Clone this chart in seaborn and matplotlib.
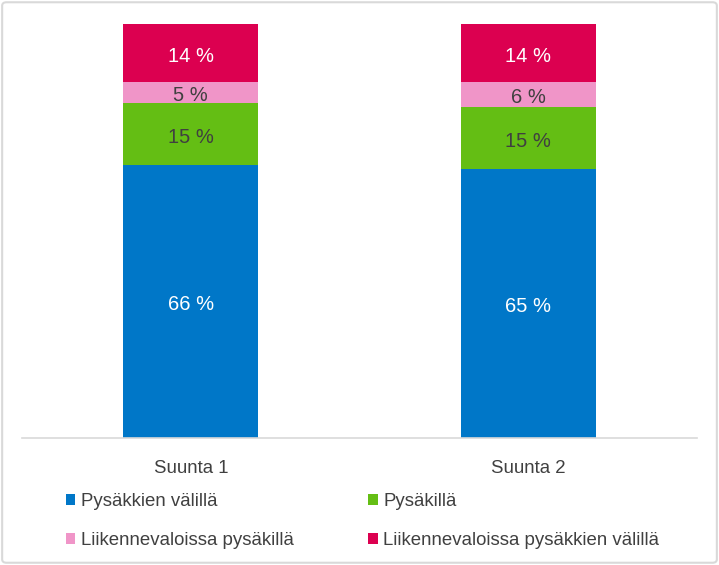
import pandas as pd
import matplotlib.pyplot as plt
import seaborn as sns
from matplotlib.patches import FancyBboxPatch, Patch

categories = ['Suunta 1', 'Suunta 2']
series_names = ['Pysäkkien välillä', 'Pysäkillä',
                'Liikennevaloissa pysäkillä', 'Liikennevaloissa pysäkkien välillä']
pysakkien_valilla = [66, 65]
pysakilla = [15, 15]
valot_pysakilla = [5, 6]
valot_valilla = [14, 14]

colors = ['#0077C8', '#64BE14', '#F095C8', '#DC0050']
label_colors = ['white', '#404040', '#404040', 'white']

sns.set_style('white')
plt.rcParams['font.family'] = ['Liberation Sans', 'DejaVu Sans']

fig = plt.figure(figsize=(7.19, 5.65), dpi=100)
ax = fig.add_axes([22 / 719, 1 - 438 / 565, 675 / 719, 414 / 565])

values = [pysakkien_valilla, pysakilla, valot_pysakilla, valot_valilla]
bottom = [0, 0]
for name, vals, col, lc in zip(series_names, values, colors, label_colors):
    df = pd.DataFrame({'cat': categories, 'val': vals})
    sns.barplot(data=df, x='cat', y='val', color=col, width=0.4, linewidth=0,
                bottom=bottom, ax=ax, saturation=1, errorbar=None)
    for i, v in enumerate(vals):
        ax.annotate(f'{v} %', (i, bottom[i] + v / 2), xytext=(0, -2.5),
                    textcoords='offset points', ha='center', va='center',
                    color=lc, fontsize=14.5)
    bottom = [b + v for b, v in zip(bottom, vals)]

ax.set_ylim(0, 100)
ax.set_xlim(-0.5, 1.5)
ax.set_xlabel('')
ax.set_ylabel('')
ax.set_yticks([])
for s in ['top', 'right', 'left']:
    ax.spines[s].set_visible(False)
ax.spines['bottom'].set_color('#D9D9D9')
ax.spines['bottom'].set_linewidth(1.2)
ax.tick_params(axis='x', length=0, pad=16, labelsize=13.4, labelcolor='#404040')

# legend is filled row by row in the reference
order = [0, 2, 1, 3]
handles = [Patch(facecolor=colors[k], edgecolor='none') for k in order]
labels = [series_names[k] for k in order]
fig.legend(handles, labels, loc='upper left', ncol=2,
           bbox_to_anchor=(66 / 719, 1 - 493 / 565), frameon=False,
           fontsize=13.4, labelcolor='#404040', handlelength=0.5, handleheight=0.5,
           handletextpad=0.3, columnspacing=4.0, labelspacing=1.2,
           borderaxespad=0, borderpad=0)

border = FancyBboxPatch((0.003, 0.004), 0.994, 0.992, boxstyle='round,pad=0,rounding_size=0.006',
                        transform=fig.transFigure, facecolor='none',
                        edgecolor='#D9D9D9', linewidth=1.5)
fig.patches.append(border)

fig.savefig('out.png', dpi=100)
